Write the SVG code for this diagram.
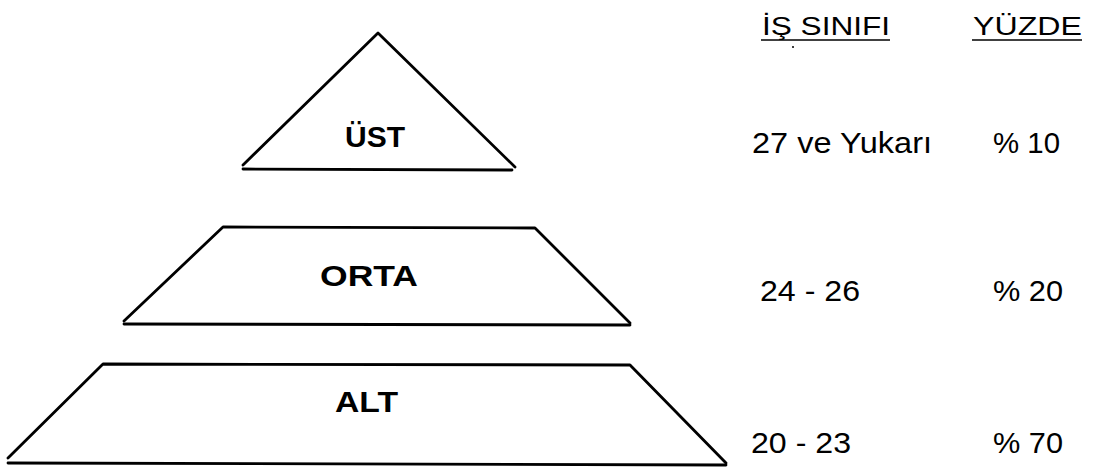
<svg xmlns="http://www.w3.org/2000/svg" width="1093" height="469" viewBox="0 0 1093 469">
  <style>
    .shape { fill: none; stroke: #000; stroke-width: 2.8; stroke-linecap: round; stroke-linejoin: round; }
    .tier { font-family: "Liberation Sans", Arial, sans-serif; font-weight: bold; font-size: 29px; fill: #000; }
    .head { font-family: "Liberation Sans", Arial, sans-serif; font-size: 25px; fill: #000; }
    .cell { font-family: "Liberation Sans", Arial, sans-serif; font-size: 30px; fill: #000; }
    .rule { stroke: #000; stroke-width: 1.6; }
  </style>
  <rect width="1093" height="469" fill="#fff"/>

  <!-- Top tier: triangle -->
  <g id="tier-ust">
    <polyline class="shape" points="243,165 378,33 515,167"/>
    <line class="shape" x1="243" y1="169" x2="512" y2="170"/>
    <text class="tier" x="345" y="147" textLength="60" lengthAdjust="spacingAndGlyphs">ÜST</text>
  </g>

  <!-- Middle tier: trapezoid -->
  <g id="tier-orta">
    <polyline class="shape" points="124,321 223,227 535,228 630,323"/>
    <line class="shape" x1="124" y1="324" x2="630" y2="325"/>
    <text class="tier" x="320" y="286" textLength="98" lengthAdjust="spacingAndGlyphs">ORTA</text>
  </g>

  <!-- Bottom tier: trapezoid -->
  <g id="tier-alt">
    <polyline class="shape" points="8,458 103,364 630,365 726,463"/>
    <line class="shape" x1="8" y1="463" x2="726" y2="465"/>
    <text class="tier" x="335" y="412" textLength="63" lengthAdjust="spacingAndGlyphs">ALT</text>
  </g>

  <!-- Column headers -->
  <g id="header-class">
    <text class="head" x="762" y="35" textLength="128" lengthAdjust="spacingAndGlyphs">İŞ SINIFI</text>
    <line class="rule" x1="761" y1="40" x2="890" y2="40"/>
    <circle cx="793" cy="47" r="1" fill="#000"/>
  </g>
  <g id="header-percent">
    <text class="head" x="973" y="35" textLength="109" lengthAdjust="spacingAndGlyphs">YÜZDE</text>
    <line class="rule" x1="972" y1="40" x2="1082" y2="40"/>
  </g>

  <!-- Rows -->
  <g id="row-ust">
    <text class="cell" x="752" y="153" textLength="180" lengthAdjust="spacingAndGlyphs">27 ve Yukarı</text>
    <text class="cell" x="993" y="153" textLength="67" lengthAdjust="spacingAndGlyphs">% 10</text>
  </g>
  <g id="row-orta">
    <text class="cell" x="760" y="301" textLength="100" lengthAdjust="spacingAndGlyphs">24 - 26</text>
    <text class="cell" x="993" y="301" textLength="70" lengthAdjust="spacingAndGlyphs">% 20</text>
  </g>
  <g id="row-alt">
    <text class="cell" x="751" y="453" textLength="100" lengthAdjust="spacingAndGlyphs">20 - 23</text>
    <text class="cell" x="993" y="453" textLength="70" lengthAdjust="spacingAndGlyphs">% 70</text>
  </g>
</svg>
